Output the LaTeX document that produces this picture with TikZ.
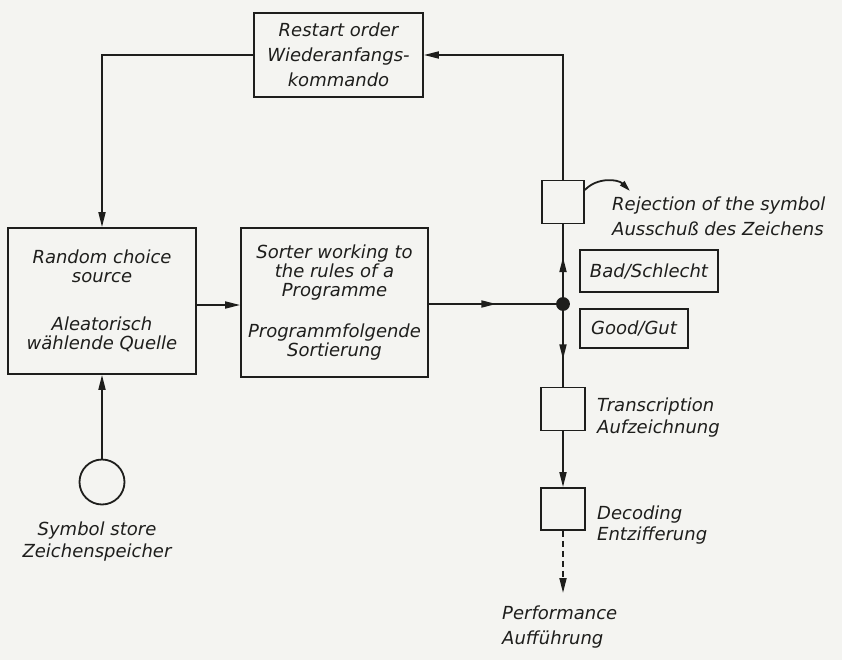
\documentclass[tikz,border=0pt]{standalone}
\usepackage{fontspec}
\setmainfont{DejaVu Sans}
\usepackage{tikz}
\usetikzlibrary{arrows.meta,decorations.markings,positioning,calc}
\definecolor{paper}{RGB}{244,244,241}
\definecolor{inkc}{RGB}{30,30,28}

\tikzset{
  ink/.style={line width=1.8pt, draw=inkc},
  blockbox/.style={ink, rectangle, inner sep=0pt, align=center, text=inkc,
    font=\itshape\fontsize{18}{19}\selectfont},
  lbl/.style={inner sep=0pt, align=left, text=inkc,
    font=\itshape\fontsize{18}{23}\selectfont},
  arrowtip/.style={-{Triangle[length=15pt,width=7pt]}},
  midarrow/.style={postaction={decorate}, decoration={markings,
    mark=at position #1 with {\arrow{Triangle[length=15pt,width=7pt]}}}},
}

\begin{document}
\begin{tikzpicture}[x=1pt,y=-1pt]
\fill[paper] (0,0) rectangle (842,660);
\useasboundingbox (0,0) rectangle (842,660);

% blocks
\node[blockbox, minimum width=169pt, minimum height=84pt, font=\itshape\fontsize{18}{25}\selectfont] (restart) at (338.5,55) {Restart order\\Wiederanfangs-\\kommando};
\node[blockbox, minimum width=188pt, minimum height=146pt] (random) at (102,301) {Random choice\\source\\[29pt]Aleatorisch\\wählende Quelle};
\node[blockbox, minimum width=187pt, minimum height=149pt] (sorter) at (334.5,302.5) {Sorter working to\\the rules of a\\Programme\\[22pt]Programmfolgende\\Sortierung};
\node[ink, circle, fill=inkc, inner sep=0pt, minimum size=12pt] (junc) at (563,304) {};
\node[blockbox, minimum width=42pt, minimum height=43pt] (reject) at (563,202) {};
\node[blockbox, minimum width=44pt, minimum height=43pt] (trans) at (563,409) {};
\node[blockbox, minimum width=44pt, minimum height=42pt] (decode) at (563,509) {};
\node[blockbox, minimum width=138pt, minimum height=42pt] (bad) at (649,271) {Bad/Schlecht};
\node[blockbox, minimum width=108pt, minimum height=39pt] (good) at (634,328.5) {Good/Gut};
\node[ink, circle, minimum size=45pt, inner sep=0pt] (store) at (102,482) {};

% labels
\node[lbl, anchor=west, font=\itshape\fontsize{18}{25}\selectfont] (rejtext) at (612,216) {Rejection of the symbol\\Ausschuß des Zeichens};
\node[lbl, anchor=west, font=\itshape\fontsize{18}{22}\selectfont] (transtext) at (597,418) {Transcription\\Aufzeichnung};
\node[lbl, anchor=west, font=\itshape\fontsize{18}{21}\selectfont] (decodetext) at (597,525) {Decoding\\Entzifferung};
\node[lbl, anchor=north west, font=\itshape\fontsize{18}{25}\selectfont] (perf) at (502,606) {Performance\\Aufführung};
\node[lbl, align=center, anchor=north, font=\itshape\fontsize{18}{22}\selectfont] (storetext) at (97,522) {Symbol store\\Zeichenspeicher};

\coordinate (rejtip) at (630,191);
\coordinate (perftip) at (563,593);

% connectors
\draw[ink, arrowtip] (restart.west) -| (random.north);
\draw[ink, arrowtip] (reject.north) |- (restart.east);
\draw[ink, -{Triangle[length=11pt,width=6pt]}] ([yshift=12pt]reject.east) .. controls (597,177) and (618,179) .. (rejtip);
\draw[ink, arrowtip] (random.east |- 0,305) -- (sorter.west |- 0,305);
\draw[ink, midarrow=0.53] (sorter.east |- junc) -- (junc);
\draw[ink, midarrow=0.55] (junc) -- (reject.south);
\draw[ink, midarrow=0.64] (junc) -- (trans.north);
\draw[ink, arrowtip] (trans.south) -- (decode.north);
\draw[ink, dash pattern=on 6pt off 4pt, arrowtip] (decode.south) -- (perftip);
\draw[ink, arrowtip] (store.north) -- (random.south);
\end{tikzpicture}
\end{document}
